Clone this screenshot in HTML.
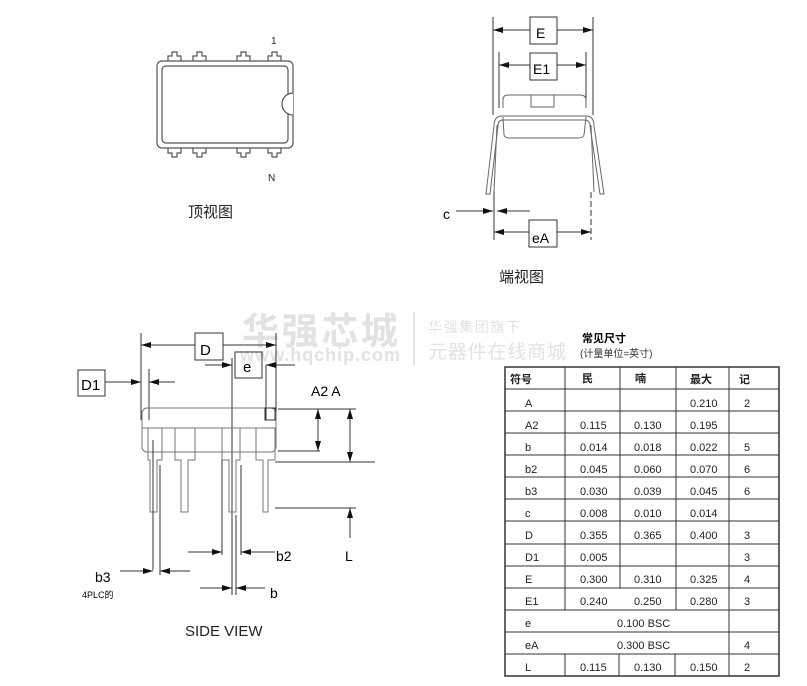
<!DOCTYPE html>
<html><head><meta charset="utf-8"><style>
body{margin:0;background:#fff;}
svg text{font-family:"Liberation Sans","Noto Sans CJK SC",sans-serif;}
</style></head><body>
<svg width="807" height="681" viewBox="0 0 807 681" xmlns="http://www.w3.org/2000/svg">
<defs>
<marker id="ar" viewBox="0 0 10 6" refX="10" refY="3" markerWidth="10" markerHeight="6" orient="auto" markerUnits="userSpaceOnUse"><path d="M0,0L10,3L0,6Z" fill="#111"/></marker>
</defs>
<!-- watermark -->
<g fill="#e2e2e2">
<text x="242" y="344" font-size="37" font-weight="bold" textLength="156">华强芯城</text>
<text x="240" y="361" font-size="18" font-weight="bold" textLength="160">www.hqchip.com</text>
<rect x="413" y="312" width="2" height="53"/>
<text x="428" y="332" font-size="14" textLength="92">华强集团旗下</text>
<text x="428" y="358" font-size="19" textLength="138">元器件在线商城</text>
</g>
<!-- TOP VIEW -->
<g fill="none" stroke="#555" stroke-width="1.2">
<rect x="157" y="61" width="136" height="87" rx="5"/>
<rect x="162" y="66" width="126" height="77" rx="4"/>
<path d="M293,93 A11,11 0 0 0 293,115" fill="#fff"/>
<g id="pt"><path d="M168,61V56H172V52H177V56H181V61"/></g>
<use href="#pt" x="25"/><use href="#pt" x="69"/><use href="#pt" x="100"/>
<g id="pb"><path d="M168,148V153H172V157H177V153H181V148"/></g>
<use href="#pb" x="25"/><use href="#pb" x="69"/><use href="#pb" x="100"/>
</g>
<text x="271" y="44" font-size="10" fill="#223">1</text>
<text x="268" y="181" font-size="10" fill="#223">N</text>
<text x="188" y="217" font-size="15" fill="#222">顶视图</text>
<!-- END VIEW -->
<g stroke="#333" stroke-width="1" fill="none">
<line x1="493" y1="17" x2="493" y2="115"/><line x1="593" y1="17" x2="593" y2="115"/>
<line x1="530" y1="30" x2="493" y2="30" marker-end="url(#ar)"/><line x1="557" y1="30" x2="593" y2="30" marker-end="url(#ar)"/>
<line x1="499" y1="52" x2="499" y2="108"/><line x1="586" y1="52" x2="586" y2="108"/>
<line x1="530" y1="65" x2="499" y2="65" marker-end="url(#ar)"/><line x1="557" y1="65" x2="586" y2="65" marker-end="url(#ar)"/>
<rect x="530" y="17" width="27" height="27"/><rect x="530" y="53" width="27" height="27"/>
<path d="M503,108V100Q503,95 508,95H580Q586,95 586,100V108" stroke="#666"/>
<rect x="531" y="95" width="23" height="12" stroke="#666"/>
<path d="M503,117L504,135Q505,138 510,138H578Q583,138 584,135L586,117" stroke="#666"/>
<path d="M494,126Q494,116 502,116H586Q594,116 594,126L604,194H600L590,126Q590,120 584,120H503Q498,120 498,126L490,194H486Z" stroke="#666"/>
<path d="M497,125L494,192M591,125L594,192" stroke="#666"/>
<line x1="494" y1="192" x2="494" y2="240"/><line x1="591" y1="192" x2="591" y2="240" stroke-dasharray="6,3"/>
<line x1="456" y1="211" x2="493" y2="211" marker-end="url(#ar)"/><line x1="530" y1="211" x2="497" y2="211" marker-end="url(#ar)"/>
<line x1="529" y1="232" x2="494" y2="232" marker-end="url(#ar)"/><line x1="557" y1="232" x2="591" y2="232" marker-end="url(#ar)"/>
<rect x="529" y="220" width="28" height="27"/>
</g>
<text x="536" y="38" font-size="14">E</text>
<text x="533" y="74" font-size="14">E1</text>
<text x="532" y="243" font-size="14">eA</text>
<text x="443" y="219" font-size="14">c</text>
<text x="499" y="282" font-size="15" fill="#222">端视图</text>
<!-- SIDE VIEW -->
<g stroke="#333" stroke-width="1" fill="none">
<line x1="141" y1="333" x2="141" y2="420"/><line x1="276" y1="333" x2="276" y2="420"/>
<line x1="195" y1="345" x2="141" y2="345" marker-end="url(#ar)"/><line x1="223" y1="345" x2="276" y2="345" marker-end="url(#ar)"/>
<rect x="195" y="333" width="28" height="27"/>
<rect x="235" y="352" width="27" height="26"/>
<line x1="232" y1="358" x2="232" y2="595"/><line x1="266" y1="365" x2="266" y2="420"/>
<line x1="205" y1="365" x2="232" y2="365" marker-end="url(#ar)"/><line x1="295" y1="365" x2="266" y2="365" marker-end="url(#ar)"/>
<rect x="78" y="370" width="27" height="26"/>
<line x1="105" y1="382" x2="141" y2="382" marker-end="url(#ar)"/>
<line x1="149" y1="369" x2="149" y2="420"/><line x1="175" y1="382" x2="149" y2="382" marker-end="url(#ar)"/>
<rect x="142" y="408" width="134" height="44" rx="5" stroke="#777"/>
<line x1="142" y1="428" x2="276" y2="428" stroke="#777"/>
<rect x="265" y="408" width="10" height="12"/>
<g stroke="#777">
<path d="M148,428V460H150V512H157V460H162V428"/>
<path d="M175,428V460H181V512H188V460H195V428"/>
<path d="M222,428V460H229V512H236V460H240V428"/>
<path d="M256,428V460H263V512H268V460H275V428"/>
</g>
<line x1="153" y1="440" x2="153" y2="570"/><line x1="160" y1="465" x2="160" y2="575"/>
<line x1="222" y1="460" x2="222" y2="555"/><line x1="241" y1="465" x2="241" y2="555"/>
<line x1="236" y1="515" x2="236" y2="595"/>
<line x1="278" y1="409" x2="320" y2="409"/><line x1="278" y1="451" x2="320" y2="451"/>
<line x1="318" y1="430" x2="318" y2="409" marker-end="url(#ar)"/><line x1="318" y1="430" x2="318" y2="451" marker-end="url(#ar)"/>
<line x1="320" y1="409" x2="356" y2="409"/>
<line x1="350" y1="435" x2="350" y2="409" marker-end="url(#ar)"/><line x1="350" y1="435" x2="350" y2="462" marker-end="url(#ar)"/>
<line x1="275" y1="462" x2="375" y2="462"/>
<line x1="275" y1="508" x2="356" y2="508"/>
<line x1="350" y1="538" x2="350" y2="508" marker-end="url(#ar)"/>
<line x1="188" y1="552" x2="222" y2="552" marker-end="url(#ar)"/><line x1="275" y1="552" x2="241" y2="552" marker-end="url(#ar)"/>
<line x1="120" y1="571" x2="153" y2="571" marker-end="url(#ar)"/><line x1="190" y1="571" x2="160" y2="571" marker-end="url(#ar)"/>
<line x1="200" y1="588" x2="232" y2="588" marker-end="url(#ar)"/><line x1="265" y1="588" x2="236" y2="588" marker-end="url(#ar)"/>
</g>
<text x="200" y="355" font-size="15">D</text>
<text x="243" y="372" font-size="15">e</text>
<text x="81" y="390" font-size="15">D1</text>
<text x="311" y="396" font-size="14">A2 A</text>
<text x="345" y="561" font-size="14">L</text>
<text x="276" y="561" font-size="14">b2</text>
<text x="95" y="582" font-size="14">b3</text>
<text x="82" y="598" font-size="9">4PLC的</text>
<text x="270" y="598" font-size="14">b</text>
<text x="185" y="636" font-size="15" fill="#222">SIDE VIEW</text>
<!-- TABLE -->
<text x="582" y="342" font-size="11" font-weight="bold">常见尺寸</text>
<text x="580" y="357" font-size="10" fill="#333">(计量单位=英寸)</text>
<g stroke="#333" stroke-width="1" fill="none">
<rect x="505" y="367" width="274" height="309" stroke-width="1.5"/>
<path d="M505,389H779M505,411H779M505,433H779M505,455H779M505,477H779M505,499H779M505,521H779M505,544H779M505,566H779M505,588H779M505,610H779M505,632H779M505,654H779"/>
<path d="M565,367V610M620,367V588M676,367V610M729,367V676M565,654V676M619,654V676M675,654V676"/>
</g>
<g font-size="11" fill="#222">
<text x="510" y="383" font-weight="bold">符号</text><text x="582" y="382" font-weight="bold">民</text><text x="635" y="382" font-weight="bold">喃</text><text x="690" y="383" font-weight="bold">最大</text><text x="739" y="383" font-weight="bold">记</text>
</g>
<g font-size="11" fill="#222">
<text x="525" y="407">A</text><text x="690" y="407">0.210</text><text x="744" y="407">2</text>
<text x="525" y="429">A2</text><text x="580" y="429">0.115</text><text x="634" y="429">0.130</text><text x="690" y="429">0.195</text>
<text x="525" y="451">b</text><text x="580" y="451">0.014</text><text x="634" y="451">0.018</text><text x="690" y="451">0.022</text><text x="744" y="451">5</text>
<text x="525" y="473">b2</text><text x="580" y="473">0.045</text><text x="634" y="473">0.060</text><text x="690" y="473">0.070</text><text x="744" y="473">6</text>
<text x="525" y="495">b3</text><text x="580" y="495">0.030</text><text x="634" y="495">0.039</text><text x="690" y="495">0.045</text><text x="744" y="495">6</text>
<text x="525" y="517">c</text><text x="580" y="517">0.008</text><text x="634" y="517">0.010</text><text x="690" y="517">0.014</text>
<text x="525" y="539">D</text><text x="580" y="539">0.355</text><text x="634" y="539">0.365</text><text x="690" y="539">0.400</text><text x="744" y="539">3</text>
<text x="525" y="561">D1</text><text x="580" y="561">0.005</text><text x="744" y="561">3</text>
<text x="525" y="583">E</text><text x="580" y="583">0.300</text><text x="634" y="583">0.310</text><text x="690" y="583">0.325</text><text x="744" y="583">4</text>
<text x="525" y="605">E1</text><text x="580" y="605">0.240</text><text x="634" y="605">0.250</text><text x="690" y="605">0.280</text><text x="744" y="605">3</text>
<text x="525" y="627">e</text><text x="617" y="627">0.100 BSC</text>
<text x="525" y="649">eA</text><text x="617" y="649">0.300 BSC</text><text x="744" y="649">4</text>
<text x="525" y="671">L</text><text x="580" y="671">0.115</text><text x="634" y="671">0.130</text><text x="690" y="671">0.150</text><text x="744" y="671">2</text>
</g>
</svg>
</body></html>
